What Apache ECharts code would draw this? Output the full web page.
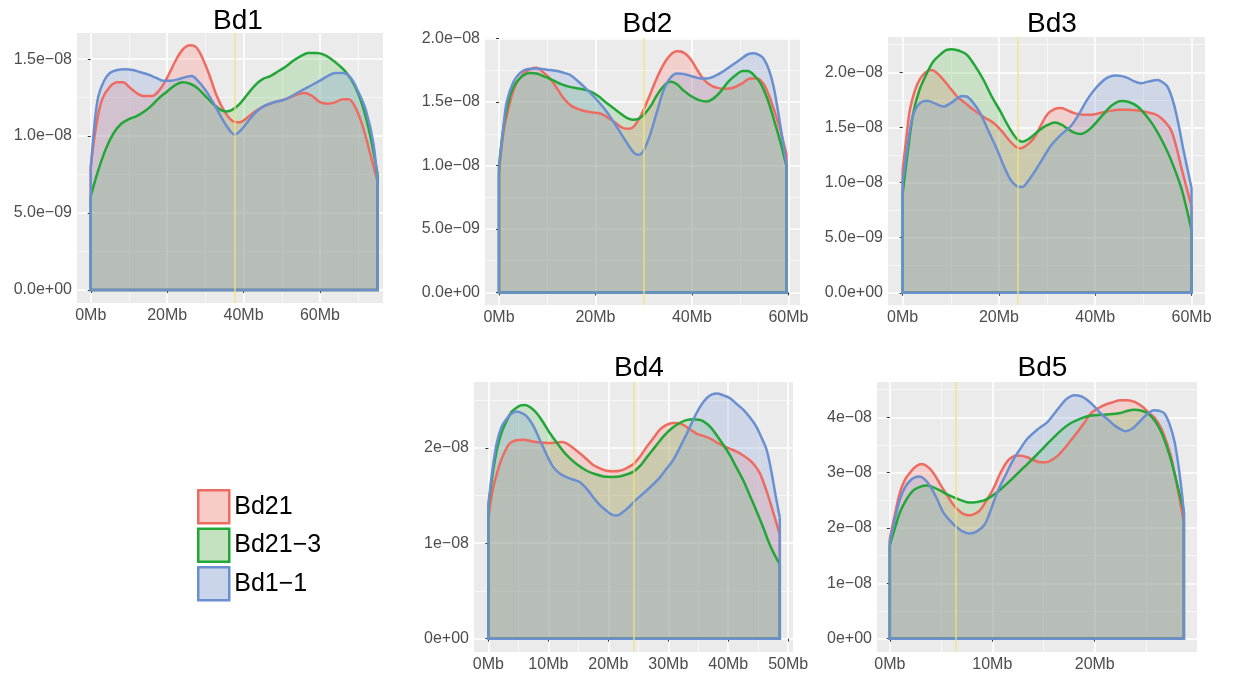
<!DOCTYPE html>
<html>
<head>
<meta charset="utf-8">
<script src="https://cdn.jsdelivr.net/npm/echarts@6/dist/echarts.min.js"></script>
<style>
  html, body { margin: 0; padding: 0; background: #fff; }
  #chart { width: 1243px; height: 673px; }
</style>
</head>
<body>
<div id="chart"></div>
<script>
// ---------------- DATA (positions in Mb, density in units of 1e-9) ----------------
const seriesNames = ['Bd21', 'Bd21\u22123', 'Bd1\u22121'];
const chromTitles = ['Bd1', 'Bd2', 'Bd3', 'Bd4', 'Bd5'];
const centromeres = [37.7, 30.1, 24.0, 24.3, 6.4];

const xTicksBd1 = [0, 20, 40, 60];
const xTicksBd2 = [0, 20, 40, 60];
const xTicksBd3 = [0, 20, 40, 60];
const xTicksBd4 = [0, 10, 20, 30, 40, 50];
const xTicksBd5 = [0, 10, 20];
const yTicksBd1 = [0, 5, 10, 15];
const yTicksBd2 = [0, 5, 10, 15, 20];
const yTicksBd3 = [0, 5, 10, 15, 20];
const yTicksBd4 = [0, 10, 20];
const yTicksBd5 = [0, 10, 20, 30, 40];
const yLabelDigits = [1, 1, 1, 0, 0];

const bd1_Bd21 = [[0,8.0],[1.5,10.8],[3,12.4],[5,13.2],[7,13.5],[8.5,13.5],[10,13.2],[12,12.8],[14,12.6],[16,12.6],[18,13.0],[20,13.8],[22,14.8],[24,15.6],[26,15.9],[27.5,15.8],[29,15.2],[31,14.0],[33,12.6],[35,11.6],[37,11.0],[39,10.9],[41,11.2],[43,11.6],[45,11.9],[48,12.2],[51,12.4],[54,12.7],[56,12.8],[58,12.6],[60,12.2],[62,12.1],[64,12.2],[66,12.4],[67.5,12.4],[69,12.0],[71,10.8],[73,9.0],[75.1,7.0]];
const bd1_Bd21_3 = [[0,6.1],[2,7.8],[4,9.2],[6,10.2],[8,10.8],[10,11.1],[12,11.3],[14,11.6],[16,12.0],[18,12.5],[20,12.9],[22,13.3],[24,13.5],[26,13.4],[28,13.1],[30,12.6],[32,12.1],[34,11.7],[35.5,11.6],[37,11.7],[39,12.1],[41,12.7],[43,13.3],[45,13.7],[47,13.9],[49,14.2],[51,14.5],[53,14.9],[55,15.2],[57,15.4],[59,15.4],[61,15.3],[63,15.0],[65,14.6],[67,14.1],[69,13.3],[71,12.1],[73,10.2],[75.1,7.5]];
const bd1_Bd1_1 = [[0,7.9],[1,10.8],[2,12.6],[3.5,13.6],[5,14.1],[7,14.3],[9,14.35],[11,14.3],[13,14.15],[15,14.0],[17,13.8],[19,13.6],[21,13.6],[23,13.7],[25,13.85],[26.5,13.9],[28,13.6],[30,13.0],[32,12.2],[34,11.3],[36,10.5],[37.7,10.1],[39,10.3],[41,10.9],[43,11.5],[45,11.9],[48,12.2],[51,12.4],[54,12.8],[57,13.2],[60,13.6],[62,13.9],[64,14.1],[66,14.1],[68,13.8],[70,12.9],[72,11.7],[74,9.5],[75.1,6.8]];

const bd2_Bd21 = [[0,9.3],[1,12.8],[2.3,15.0],[3.5,16.4],[5,17.2],[6.5,17.6],[7.8,17.7],[9,17.4],[10.6,16.85],[12,16.1],[13.4,15.3],[15,14.7],[16.8,14.4],[19,14.2],[21,14.1],[22.5,13.8],[24,13.4],[25.8,12.95],[27,12.9],[28,13.1],[29.5,14.0],[31,15.3],[32.5,16.7],[34,17.9],[35.5,18.7],[36.9,19.0],[38.3,18.9],[39.7,18.4],[41,17.6],[42.4,16.8],[44,16.3],[45.5,16.1],[47,16.05],[48.7,16.15],[50.5,16.5],[52.1,16.85],[53.5,16.85],[54.9,16.4],[56,15.5],[57,14.4],[58.3,12.8],[59.6,10.9]];
const bd2_Bd21_3 = [[0,9.95],[1,13.2],[2.3,15.5],[3.5,16.5],[5,17.1],[6.5,17.3],[7.8,17.25],[9.5,17.0],[11.3,16.7],[13,16.4],[14.7,16.2],[16.8,16.05],[18.9,15.85],[20.5,15.5],[22.4,14.9],[24.5,14.3],[26.5,13.75],[27.8,13.6],[29,13.7],[30,14.0],[31.3,14.6],[33,15.7],[34.8,16.5],[35.8,16.6],[36.9,16.4],[38.3,15.9],[39.7,15.5],[41.5,15.15],[43.1,15.05],[44.5,15.3],[45.9,15.8],[47.5,16.6],[49.3,17.2],[50.5,17.45],[51.6,17.45],[52.8,17.15],[54.2,16.5],[55.6,15.3],[57,13.6],[58.3,11.9],[59.6,9.95]];
const bd2_Bd1_1 = [[0,9.8],[0.8,12.6],[1.6,15.0],[3,16.6],[4.4,17.3],[6,17.6],[7.8,17.65],[10,17.55],[12,17.45],[13.5,17.3],[14.7,17.15],[16.5,16.6],[18.2,16.0],[20,15.3],[22.4,14.2],[24.5,13.0],[26.5,11.8],[28,11.0],[29,10.85],[30,11.2],[31.3,12.4],[32.8,14.3],[34.1,15.9],[35.5,16.9],[36.9,17.25],[38.5,17.2],[40.3,17.0],[42,16.85],[43.1,16.85],[45,17.1],[46.6,17.45],[48.3,17.9],[50,18.35],[51.5,18.75],[52.8,18.85],[54,18.7],[54.9,18.4],[56,17.5],[57,16.1],[58.3,13.2],[59.6,10.1]];

const bd3_Bd21 = [[0,11.15],[0.8,14.2],[1.5,16.6],[2.5,18.3],[3.6,19.4],[4.8,20.0],[6,20.2],[7.2,19.9],[8.5,19.3],[10,18.5],[11.3,17.8],[13,17.2],[14.7,16.6],[17,15.9],[18.9,15.4],[20.5,14.7],[22.4,13.7],[23.5,13.25],[24.4,13.1],[25.8,13.4],[27.2,14.0],[28.6,15.1],[30,16.15],[31.5,16.65],[32.8,16.75],[34.2,16.55],[35.6,16.3],[37.5,16.15],[39,16.15],[41,16.3],[42.5,16.45],[45,16.6],[46.7,16.6],[48.5,16.55],[50.1,16.45],[51.5,16.3],[52.9,16.1],[54.3,15.6],[55.7,14.8],[56.8,13.3],[57.8,11.5],[59,9.5],[60.0,7.8]];
const bd3_Bd21_3 = [[0,9.0],[1,12.6],[2.2,16.3],[3.5,18.4],[5,19.9],[6.4,21.0],[7.8,21.6],[9,22.0],[10.2,22.1],[11.8,21.95],[13.3,21.6],[15,20.6],[16.8,19.3],[18.5,17.8],[20.3,16.45],[21.7,15.3],[23.1,14.3],[24,13.85],[24.8,13.7],[26,13.9],[27.2,14.3],[28.6,14.8],[30,15.2],[31.7,15.45],[33,15.25],[34.2,14.9],[35.5,14.55],[36.9,14.4],[38.3,14.65],[39.7,15.2],[41.5,16.1],[43.2,16.9],[44.5,17.3],[45.6,17.4],[47,17.3],[48.8,16.9],[50.5,16.1],[52.2,15.1],[54,13.7],[55.7,12.1],[57.8,9.6],[59,7.6],[60.0,5.7]];
const bd3_Bd1_1 = [[0,10.1],[0.9,13.0],[1.9,15.7],[2.7,16.7],[3.6,17.2],[4.5,17.4],[5.3,17.4],[6.8,17.15],[8.5,16.9],[10,17.2],[11.25,17.6],[12.3,17.85],[13.3,17.8],[14.7,17.2],[16.1,16.3],[17.8,14.7],[19.6,13.0],[21,11.5],[22.4,10.25],[23.6,9.7],[24.8,9.6],[26,10.1],[27.2,10.85],[29,12.1],[30.7,13.3],[32.8,14.3],[34.9,15.1],[36.6,16.2],[38.3,17.5],[40,18.5],[41.8,19.3],[43,19.6],[44.2,19.7],[45.5,19.65],[46.7,19.5],[48,19.2],[49.4,19.0],[51,19.15],[52.9,19.3],[54,19.1],[55,18.7],[56,17.6],[57.1,15.7],[58.3,13.0],[60.0,9.5]];

const bd4_Bd21 = [[0,12.7],[0.8,15.8],[1.9,18.3],[2.8,19.7],[3.6,20.5],[4.7,20.8],[5.8,20.85],[7.2,20.7],[8.6,20.55],[10,20.5],[11.4,20.55],[12.3,20.6],[13.1,20.45],[14.2,19.95],[15.3,19.4],[16.4,18.8],[17.5,18.2],[18.6,17.85],[19.7,17.6],[20.8,17.55],[21.9,17.6],[23,17.85],[24.2,18.3],[25.3,19.1],[26.4,20.1],[27.5,21.0],[28.6,21.9],[29.7,22.4],[30.8,22.6],[31.6,22.6],[32.5,22.4],[33.6,21.95],[34.7,21.5],[35.8,21.25],[36.9,21.0],[38,20.6],[39.2,20.2],[40.3,19.9],[41.4,19.6],[42.5,19.2],[43.6,18.7],[44.5,18.1],[45.3,17.3],[46.1,16.0],[46.9,14.5],[47.8,12.6],[48.6,10.9]];
const bd4_Bd21_3 = [[0,13.8],[0.7,17.2],[1.4,19.75],[2.2,21.6],[3.1,22.9],[3.9,23.8],[4.7,24.2],[5.4,24.45],[6.1,24.5],[7.1,24.2],[8.1,23.6],[9.2,22.6],[10.3,21.5],[11.7,20.3],[13.1,19.2],[14.7,18.3],[16.4,17.6],[17.8,17.25],[19.2,17.0],[20.6,16.95],[21.9,17.0],[23,17.2],[24.2,17.5],[25.3,18.1],[26.4,19.0],[27.8,20.1],[29.2,21.2],[30.5,22.0],[31.9,22.6],[33,22.9],[34.2,23.0],[35,22.95],[35.8,22.8],[37,22.2],[38.1,21.3],[39.2,20.3],[40.3,19.2],[41.4,17.9],[42.5,16.6],[43.6,15.0],[44.7,13.4],[45.8,11.7],[46.9,9.9],[47.8,8.7],[48.6,7.8]];
const bd4_Bd1_1 = [[0,14.1],[0.7,17.8],[1.4,20.5],[2.2,22.2],[3.1,23.1],[3.9,23.6],[4.7,23.8],[5.5,23.65],[6.4,23.3],[7.5,22.3],[8.6,20.8],[9.7,19.3],[10.8,18.0],[11.9,17.3],[13.1,16.9],[14.2,16.65],[15.3,16.4],[16.4,15.7],[17.5,14.8],[18.6,14.0],[19.7,13.4],[20.6,13.0],[21.4,12.9],[22.5,13.3],[23.6,13.9],[24.7,14.6],[25.8,15.2],[27.2,16.0],[28.6,16.9],[29.7,17.8],[30.8,18.7],[31.9,20.0],[33.1,21.5],[34.2,23.0],[35.3,24.3],[36.4,25.2],[37.3,25.6],[38.1,25.7],[39.2,25.5],[40.3,25.2],[41.4,24.6],[42.5,24.0],[43.6,23.2],[44.7,22.2],[45.6,21.0],[46.4,19.8],[47.2,17.5],[47.9,15.0],[48.6,12.7]];

const bd5_Bd21 = [[0,18.1],[0.5,22.5],[1,26.5],[1.5,28.8],[2,30.1],[2.6,31.2],[3.1,31.6],[3.6,31.2],[4.2,30.1],[4.9,28.0],[5.6,25.9],[6.2,24.2],[6.9,22.9],[7.4,22.4],[7.8,22.3],[8.3,22.6],[8.8,23.2],[9.4,24.9],[10.1,27.1],[10.7,29.6],[11.4,31.9],[11.9,32.8],[12.4,33.1],[12.9,33.05],[13.4,32.8],[14,32.3],[14.7,31.9],[15.2,31.9],[15.7,32.2],[16.4,33.1],[17,34.3],[17.6,35.7],[18.3,37.3],[19,39.1],[19.6,40.7],[20.3,41.6],[20.9,42.2],[21.7,42.7],[22.5,43.1],[23.2,43.1],[23.9,42.8],[24.6,42.0],[25.2,41.0],[25.9,39.8],[26.5,38.0],[27,35.6],[27.5,32.5],[28.1,27.0],[28.7,21.1]];
const bd5_Bd21_3 = [[0,16.9],[0.5,20.0],[1,22.9],[1.6,25.1],[2.3,26.8],[3,27.5],[3.6,27.7],[4.2,27.4],[4.9,26.8],[5.6,26.1],[6.2,25.6],[7,25.0],[7.8,24.6],[8.5,24.7],[9.2,25.0],[9.8,25.6],[10.5,26.5],[11.3,27.8],[12.1,29.2],[13.1,31.0],[14.1,32.8],[15,34.5],[16,36.4],[16.8,37.8],[17.6,38.9],[18.5,39.7],[19.3,40.2],[20.1,40.4],[20.9,40.5],[21.7,40.6],[22.5,40.8],[23.2,41.2],[23.9,41.4],[24.6,41.2],[25.2,40.7],[25.9,39.3],[26.5,37.3],[27,34.9],[27.5,31.9],[28.1,27.5],[28.7,22.9]];
const bd5_Bd1_1 = [[0,17.5],[0.5,21.7],[1,25.3],[1.5,27.4],[2,28.6],[2.5,29.2],[2.9,29.3],[3.4,28.8],[3.9,27.7],[4.6,25.3],[5.2,22.9],[5.9,21.3],[6.5,20.2],[7.1,19.4],[7.8,19.0],[8.5,19.4],[9.2,20.5],[9.8,23.0],[10.5,26.5],[11.3,29.6],[12.1,32.5],[12.8,34.5],[13.4,36.1],[14.4,37.8],[15.4,39.2],[16.1,40.8],[16.7,42.2],[17.3,43.4],[18,44.0],[18.7,43.8],[19.3,43.1],[20,41.9],[20.6,40.7],[21.3,39.6],[21.9,38.6],[22.5,37.9],[23,37.5],[23.6,37.9],[24.2,38.9],[25,40.4],[25.8,41.3],[26.3,41.2],[26.8,40.7],[27.3,38.8],[27.8,35.5],[28.3,29.5],[28.7,22.9]];

// ---------------- LAYOUT & STYLE ----------------
const FONT = "'Liberation Sans', Arial, Helvetica, sans-serif";
const lineColors = ['#EE6B61', '#21A637', '#6A8FD1'];
const fillColors = ['rgba(255,121,106,0.35)', 'rgba(95,189,84,0.35)', 'rgba(121,152,218,0.35)'];
const keyFills = ['#F7CBC6', '#C4E2C0', '#CAD4EA'];

const layout = [
  { left: 77,  top: 33,  width: 306, height: 270, xr: [-3.6, 76.5],  yr: [-0.85, 16.7], tx: 238,   ty: 7 },
  { left: 485, top: 38,  width: 315, height: 267, xr: [-2.9, 62.4],  yr: [-0.99, 20.05], tx: 647.5, ty: 10 },
  { left: 888, top: 37,  width: 317, height: 268, xr: [-3.05, 62.8], yr: [-1.11, 23.2], tx: 1052,  ty: 10 },
  { left: 474, top: 382, width: 319, height: 270, xr: [-2.4, 50.8],  yr: [-1.4, 26.9],  tx: 639,   ty: 354 },
  { left: 877, top: 382, width: 320, height: 270, xr: [-1.25, 29.98], yr: [-2.4, 46.4], tx: 1042.5, ty: 354 }
];

const curves = [
  [bd1_Bd21, bd1_Bd21_3, bd1_Bd1_1],
  [bd2_Bd21, bd2_Bd21_3, bd2_Bd1_1],
  [bd3_Bd21, bd3_Bd21_3, bd3_Bd1_1],
  [bd4_Bd21, bd4_Bd21_3, bd4_Bd1_1],
  [bd5_Bd21, bd5_Bd21_3, bd5_Bd1_1]
];
const xTicks = [xTicksBd1, xTicksBd2, xTicksBd3, xTicksBd4, xTicksBd5];
const yTicks = [yTicksBd1, yTicksBd2, yTicksBd3, yTicksBd4, yTicksBd5];

function sci(nano, digits) {
  const v = nano * 1e-9;
  let s = v.toExponential(digits);
  return s.replace(/e([+-])(\d+)$/, function (m, sg, d) {
    return 'e' + (sg === '-' ? '\u2212' : '+') + (d.length < 2 ? '0' + d : d);
  });
}

const grids = [], xAxes = [], yAxes = [], titles = [], series = [];

layout.forEach(function (L, i) {
  grids.push({ left: L.left, top: L.top, width: L.width, height: L.height, show: true,
               backgroundColor: '#EBEBEB', borderWidth: 0, containLabel: false });
  titles.push({ text: chromTitles[i], left: L.tx, top: L.ty, textAlign: 'center', padding: 0,
                textStyle: { fontSize: 28, fontWeight: 'normal', color: '#000', fontFamily: FONT } });
  const xi = xTicks[i][1] - xTicks[i][0];
  const yi = yTicks[i][1] - yTicks[i][0];
  xAxes.push({
    type: 'value', gridIndex: i, min: L.xr[0], max: L.xr[1],
    minInterval: xi, maxInterval: xi, splitNumber: 4,
    axisLine: { show: false },
    axisTick: { show: true, length: 3, customValues: xTicks[i], lineStyle: { color: '#333', width: 1 } },
    axisLabel: { show: true, customValues: xTicks[i], margin: 5, color: '#4D4D4D', fontSize: 16, fontFamily: FONT,
                 formatter: function (v) { return Math.round(v) + 'Mb'; } },
    splitLine: { show: true, lineStyle: { color: '#FFFFFF', width: 1.6 } },
    minorTick: { show: false, splitNumber: 2 },
    minorSplitLine: { show: true, lineStyle: { color: '#FAFAFA', width: 0.8 } }
  });
  const digits = yLabelDigits[i];
  yAxes.push({
    type: 'value', gridIndex: i, min: L.yr[0], max: L.yr[1],
    minInterval: yi, maxInterval: yi, splitNumber: 4,
    axisLine: { show: false },
    axisTick: { show: true, length: 3, customValues: yTicks[i], lineStyle: { color: '#333', width: 1 } },
    axisLabel: { show: true, customValues: yTicks[i], margin: 5, color: '#4D4D4D', fontSize: 16, fontFamily: FONT,
                 formatter: function (v) { return sci(v, digits); } },
    splitLine: { show: true, lineStyle: { color: '#FFFFFF', width: 1.6 } },
    minorTick: { show: false, splitNumber: 2 },
    minorSplitLine: { show: true, lineStyle: { color: '#FAFAFA', width: 0.8 } }
  });

  curves[i].forEach(function (data, k) {
    series.push({
      type: 'line', name: seriesNames[k], xAxisIndex: i, yAxisIndex: i,
      data: data, smooth: 0.35, symbol: 'none', silent: true,
      lineStyle: { color: lineColors[k], width: 2.5 },
      itemStyle: { color: lineColors[k] },
      areaStyle: { color: fillColors[k], origin: 'auto' }
    });
    const first = data[0], last = data[data.length - 1];
    series.push({
      type: 'line', name: seriesNames[k], xAxisIndex: i, yAxisIndex: i,
      data: [[first[0], first[1]], [first[0], 0], [last[0], 0], [last[0], last[1]]],
      smooth: false, symbol: 'none', silent: true,
      lineStyle: { color: lineColors[k], width: 2.5, join: 'miter' },
      itemStyle: { color: lineColors[k] }
    });
  });

  series.push({
    type: 'line', name: 'centromere' + i, xAxisIndex: i, yAxisIndex: i, data: [], silent: true,
    markLine: {
      silent: true, symbol: ['none', 'none'], label: { show: false },
      lineStyle: { color: '#F2E17A', width: 1.5, type: 'solid', opacity: 0.85 },
      data: [{ xAxis: centromeres[i] }]
    }
  });
});

const chart = echarts.init(document.getElementById('chart'), null, { renderer: 'canvas' });
chart.setOption({
  animation: false,
  backgroundColor: '#FFFFFF',
  title: titles,
  grid: grids,
  xAxis: xAxes,
  yAxis: yAxes,
  legend: {
    orient: 'vertical', left: 197, top: 489, padding: 0, itemWidth: 31, itemHeight: 33, itemGap: 3,
    selectedMode: false,
    textStyle: { fontSize: 25, color: '#000', fontFamily: FONT },
    data: seriesNames.map(function (n, k) {
      return { name: n, icon: 'rect',
               itemStyle: { color: keyFills[k], borderColor: lineColors[k], borderWidth: 2.5 } };
    })
  },
  series: series
});
</script>
</body>
</html>
